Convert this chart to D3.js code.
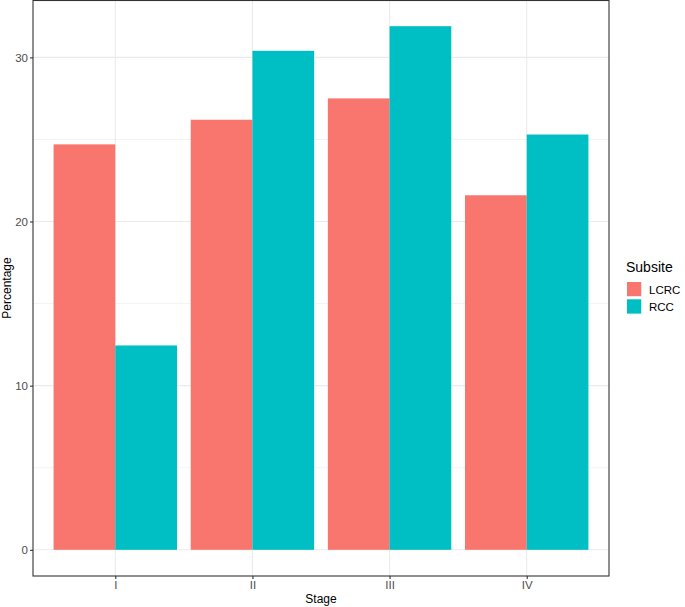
<!DOCTYPE html>
<html>
<head>
<meta charset="utf-8">
<script src="https://cdn.jsdelivr.net/npm/d3@7"></script>
<style>
  html, body { margin: 0; padding: 0; background: #fff; }
  text { font-family: "Liberation Sans", Arial, Helvetica, sans-serif; }
</style>
</head>
<body>
<svg id="chart" width="685" height="607"></svg>
<script>
const stages = ["I", "II", "III", "IV"];
const subsites = ["LCRC", "RCC"];
const lcrcValues = [24.7, 26.2, 27.5, 21.6];
const rccValues = [12.45, 30.4, 31.9, 25.3];
const yTicks = [0, 10, 20, 30];
const yMinorTicks = [5, 15, 25];
const colors = ["#F8766D", "#00BFC4"];

const data = stages.map((s, i) => ({ stage: s, values: [lcrcValues[i], rccValues[i]] }));

const svg = d3.select("#chart");
const panel = { left: 33, right: 609, top: 0, bottom: 576 };

const maxV = d3.max([...lcrcValues, ...rccValues]);
const pad = maxV * 0.05;
const y = d3.scaleLinear().domain([-pad, maxV + pad]).range([panel.bottom, panel.top]);

// discrete x: positions 1..4, expanded 0.6 each side
const xc = d3.scaleLinear().domain([0.4, stages.length + 0.6]).range([panel.left, panel.right]);
const xPos = s => xc(stages.indexOf(s) + 1);
const unit = xc(1) - xc(0);
const barW = unit * 0.9 / 2;

const g = svg.append("g");

// panel background
g.append("rect").attr("x", panel.left).attr("y", panel.top)
  .attr("width", panel.right - panel.left).attr("height", panel.bottom - panel.top)
  .attr("fill", "#fff");

// minor y grid
g.selectAll("line.ymin").data(yMinorTicks).enter().append("line")
  .attr("x1", panel.left).attr("x2", panel.right)
  .attr("y1", d => y(d)).attr("y2", d => y(d))
  .attr("stroke", "#EBEBEB").attr("stroke-width", 0.6);
// major y grid
g.selectAll("line.ymaj").data(yTicks).enter().append("line")
  .attr("x1", panel.left).attr("x2", panel.right)
  .attr("y1", d => y(d)).attr("y2", d => y(d))
  .attr("stroke", "#EBEBEB").attr("stroke-width", 1.1);
// major x grid
g.selectAll("line.xmaj").data(stages).enter().append("line")
  .attr("x1", d => xPos(d)).attr("x2", d => xPos(d))
  .attr("y1", panel.top).attr("y2", panel.bottom)
  .attr("stroke", "#EBEBEB").attr("stroke-width", 1.1);

// bars
const groups = g.selectAll("g.stage").data(data).enter().append("g");
groups.selectAll("rect").data(d => d.values.map((v, j) => ({ stage: d.stage, v, j })))
  .enter().append("rect")
  .attr("x", d => xPos(d.stage) - barW + d.j * barW)
  .attr("width", barW)
  .attr("y", d => y(d.v))
  .attr("height", d => y(0) - y(d.v))
  .attr("fill", d => colors[d.j]);

// panel border
g.append("rect").attr("x", panel.left).attr("y", panel.top + 0.5)
  .attr("width", panel.right - panel.left).attr("height", panel.bottom - panel.top - 0.5)
  .attr("fill", "none").attr("stroke", "#333333").attr("stroke-width", 1.1);

// axes
const yAxis = d3.axisLeft(y).tickValues(yTicks).tickSize(3).tickPadding(2).tickFormat(d3.format("d"));
const yg = svg.append("g").attr("transform", `translate(${panel.left},0)`).call(yAxis);
yg.select(".domain").remove();
yg.selectAll(".tick line").attr("stroke", "#333333").attr("stroke-width", 1.1);
yg.selectAll(".tick text").attr("fill", "#4D4D4D").style("font-size", "11.5px")
  .style("font-family", "Liberation Sans, Arial, sans-serif");

const xb = d3.scalePoint().domain(stages).range([xPos("I"), xPos("IV")]);
const xAxis = d3.axisBottom(xb).tickSize(3).tickPadding(2);
const xg = svg.append("g").attr("transform", `translate(0,${panel.bottom})`).call(xAxis);
xg.select(".domain").remove();
xg.selectAll(".tick line").attr("stroke", "#333333").attr("stroke-width", 1.1);
xg.selectAll(".tick text").attr("fill", "#4D4D4D").style("font-size", "11.5px")
  .style("font-family", "Liberation Sans, Arial, sans-serif");

// axis titles
svg.append("text").attr("x", (panel.left + panel.right) / 2).attr("y", 603)
  .attr("text-anchor", "middle").style("font-size", "12px").attr("fill", "#000").text("Stage");
svg.append("text").attr("transform", `translate(11,${(panel.top + panel.bottom) / 2}) rotate(-90)`)
  .attr("text-anchor", "middle").style("font-size", "12px").attr("fill", "#000").text("Percentage");

// legend
const leg = svg.append("g").attr("transform", "translate(626,0)");
leg.append("text").attr("x", 0).attr("y", 272).style("font-size", "14px").attr("fill", "#000").text("Subsite");
subsites.forEach((s, i) => {
  const ky = 281 + i * 17.3;
  leg.append("rect").attr("x", 0.5).attr("y", ky + 0.5).attr("width", 15.3).attr("height", 15.3)
    .attr("fill", colors[i]).attr("stroke", "#fff").attr("stroke-width", 1);
  leg.append("text").attr("x", 23).attr("y", ky + 8.6).attr("dy", "0.35em")
    .style("font-size", "11.5px").attr("fill", "#000").text(s);
});
</script>
</body>
</html>
